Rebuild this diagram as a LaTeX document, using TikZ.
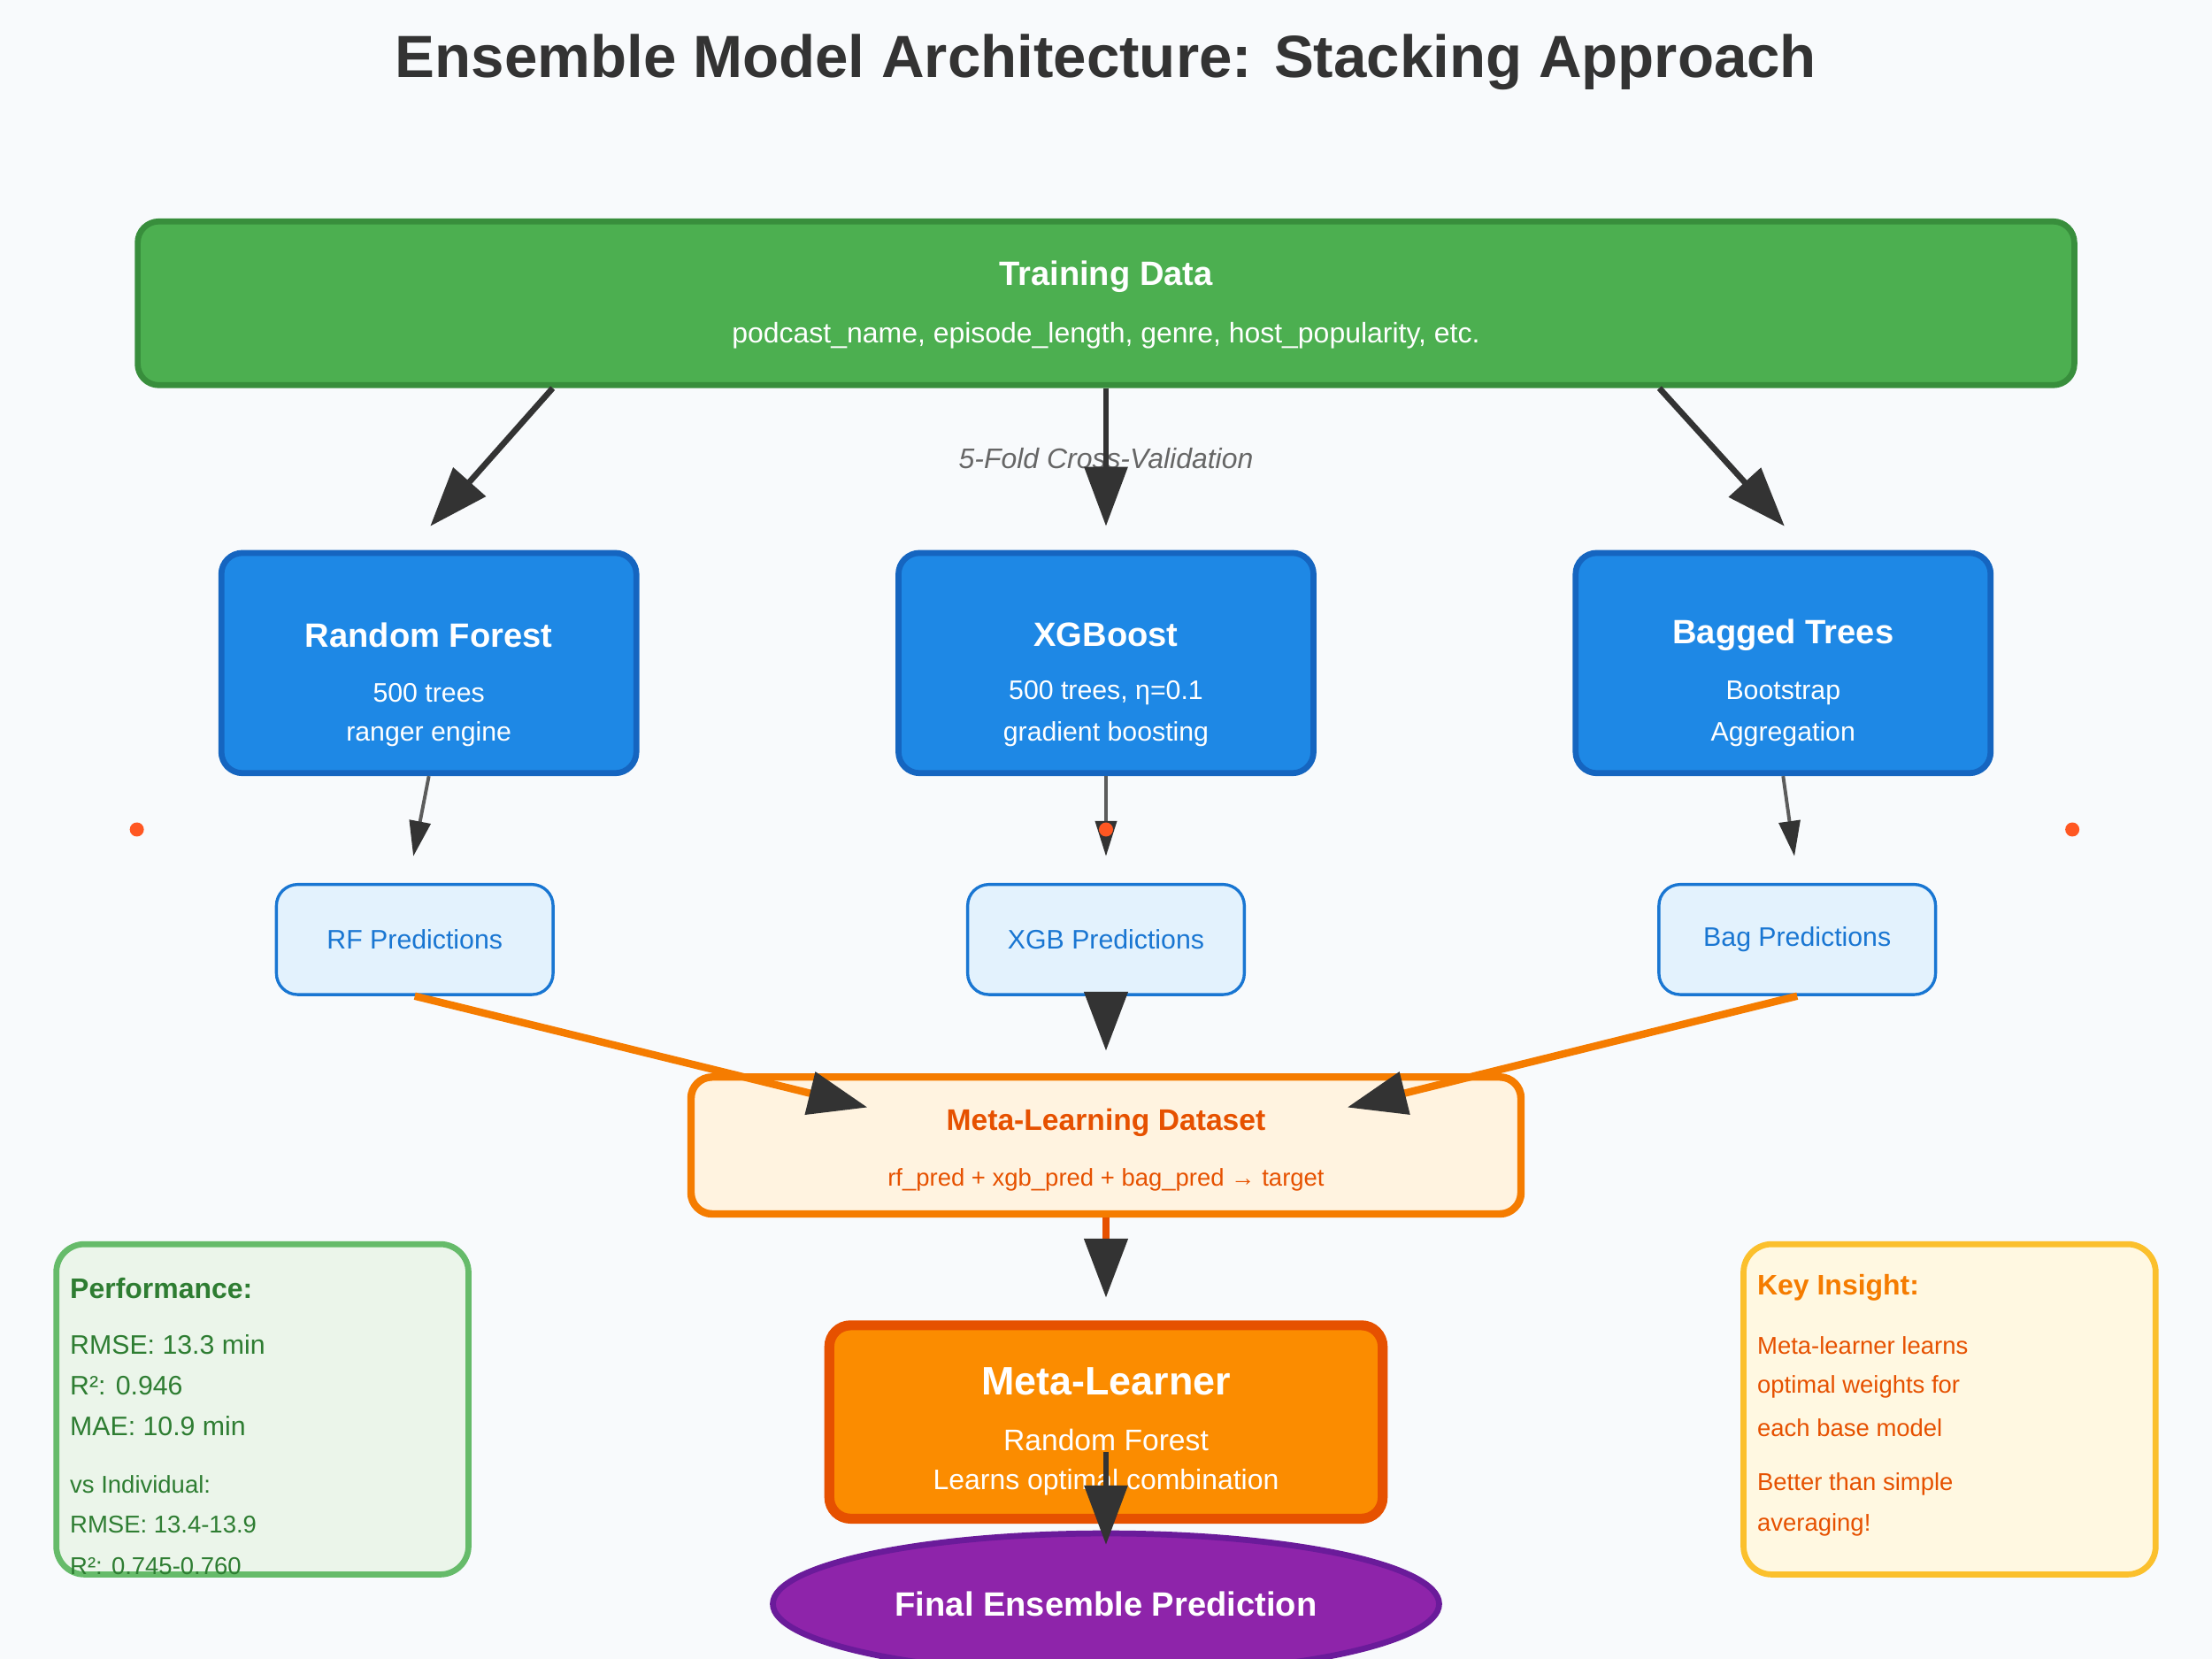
\documentclass[tikz,border=0pt]{standalone}
\usepackage{fontspec}
\setmainfont{Liberation Sans}
\usetikzlibrary{arrows.meta,shapes.geometric}
\definecolor{bgc}{HTML}{F8FAFC}
\definecolor{dark}{HTML}{333333}
\definecolor{tdfill}{HTML}{4CAF50}
\definecolor{tdline}{HTML}{388E3C}
\definecolor{mfill}{HTML}{1E88E5}
\definecolor{mline}{HTML}{1565C0}
\definecolor{pfill}{HTML}{E3F2FD}
\definecolor{pline}{HTML}{1976D2}
\definecolor{dsfill}{HTML}{FFF3E0}
\definecolor{dsline}{HTML}{F57C00}
\definecolor{dstext}{HTML}{E65100}
\definecolor{mlfill}{HTML}{FB8C00}
\definecolor{elfill}{HTML}{8E24AA}
\definecolor{elline}{HTML}{6A1B9A}
\definecolor{gfill}{HTML}{EBF5EA}
\definecolor{gline}{HTML}{66BB6A}
\definecolor{gtext}{HTML}{2E7D32}
\definecolor{yfill}{HTML}{FFF8E1}
\definecolor{yline}{HTML}{FBC02D}
\definecolor{dotc}{HTML}{FF5722}
\newcommand{\fs}[1]{\fontsize{#1}{#1}\selectfont}
\tikzset{
  box/.style={rectangle, rounded corners=0.15cm, inner sep=0pt, align=center, text=white},
  model/.style={box, fill=mfill, draw=mline, line width=1.2pt, minimum width=2.94cm, minimum height=1.56cm},
  pred/.style={box, fill=pfill, draw=pline, line width=0.6pt, minimum width=1.96cm, minimum height=0.78cm, text=pline, font=\fs{5.4pt}},
  side/.style={rectangle, rounded corners=0.2cm, line width=1.2pt, minimum width=2.92cm, minimum height=2.34cm},
  big/.style={-{Triangle[length=0.42cm,width=0.3cm,color=dark]}, line width=1.2pt},
  small/.style={-{Triangle[length=0.25cm,width=0.15cm,color=dark]}, line width=0.7pt, draw=dark!80},
}
\begin{document}
\begin{tikzpicture}[x=0.01cm,y=-0.01cm]
\fill[bgc] (0,0) rectangle (1568,1176);
\useasboundingbox (0,0) rectangle (1568,1176);
\node (title) at (784,44) {\fs{12pt}\bfseries\color{dark}Ensemble Model Architecture: Stacking Approach};
% training data
\node[box, fill=tdfill, draw=tdline, line width=1.2pt, minimum width=13.72cm, minimum height=1.16cm] (td) at (784,215) {};
\node[text=white] (tdt) at (784,196) {\fs{6.8pt}\bfseries Training Data};
\node[text=white] (tds) at (784,238) {\fs{5.7pt}podcast\_name, episode\_length, genre, host\_popularity, etc.};
\node[text=dark!75] (cv) at (784,325) {\fs{5.7pt}\itshape 5-Fold Cross-Validation};
% base models
\node[model] (rf) at (304,470) {};
\node[model] (xgb) at (784,470) {};
\node[model] (bag) at (1264,470) {};
\foreach \n/\t/\a/\b in {rf/Random Forest/500 trees/ranger engine, xgb/XGBoost/{500 trees, η=0.1}/gradient boosting, bag/Bagged Trees/Bootstrap/Aggregation}{
  \node[text=white, anchor=center] (\n t) at ([yshift=1.0cm]\n.south) {\fs{6.8pt}\bfseries \t};
  \node[text=white] (\n a) at ([yshift=0.59cm]\n.south) {\fs{5.4pt}\a};
  \node[text=white] (\n b) at ([yshift=0.3cm]\n.south) {\fs{5.4pt}\b};
}
% predictions
\node[pred] (rfp) at (294,666) {RF Predictions};
\node[pred] (xgbp) at (784,666) {XGB Predictions};
\node[pred] (bagp) at (1274,666) {Bag Predictions};
% meta dataset
\node[box, fill=dsfill, draw=dsline, line width=1.5pt, minimum width=5.88cm, minimum height=0.97cm] (ds) at (784,812) {};
\node (dst) at (784,796) {\fs{6pt}\bfseries\color{dstext}Meta-Learning Dataset};
\node (dss) at (784,836) {\fs{4.9pt}\color{dstext}rf\_pred + xgb\_pred + bag\_pred → target};
% meta learner
\node[box, fill=mlfill, draw=dstext, line width=2pt, minimum width=3.92cm, minimum height=1.37cm] (ml) at (784,1008) {};
\node[text=white] (mlt) at (784,979) {\fs{8pt}\bfseries Meta-Learner};
\node[text=white] (mla) at (784,1021) {\fs{6pt}Random Forest};
\node[text=white] (mlb) at (784,1051) {\fs{5.7pt}Learns optimal combination};
% final
\node[ellipse, fill=elfill, draw=elline, line width=1.2pt, minimum width=4.72cm, minimum height=1.0cm, text=white] (fin) at (784,1137) {\fs{6.8pt}\bfseries Final Ensemble Prediction};
% side boxes
\node[side, fill=gfill, draw=gline] (perf) at (186,999) {};
\node[side, fill=yfill, draw=yline] (ins) at (1382,999) {};
\begin{scope}[every node/.style={anchor=west, inner sep=0pt}]
\node[text=gtext] (p0) at (49,913) {\fs{5.7pt}\bfseries Performance:};
\node[text=gtext] (p1) at (49,953) {\fs{5.4pt}RMSE: 13.3 min};
\node[text=gtext] (p2) at (49,982) {\fs{5.4pt}R²: 0.946};
\node[text=gtext] (p3) at (49,1011) {\fs{5.4pt}MAE: 10.9 min};
\node[text=gtext] (p4) at (49,1052) {\fs{4.9pt}vs Individual:};
\node[text=gtext] (p5) at (49,1081) {\fs{4.9pt}RMSE: 13.4-13.9};
\node[text=gtext] (p6) at (49,1110) {\fs{4.9pt}R²: 0.745-0.760};
\node[text=dsline] (k0) at (1245,913) {\fs{5.7pt}\bfseries Key Insight:};
\node[text=dstext] (k1) at (1245,954) {\fs{4.9pt}Meta-learner learns};
\node[text=dstext] (k2) at (1245,983) {\fs{4.9pt}optimal weights for};
\node[text=dstext] (k3) at (1245,1012) {\fs{4.9pt}each base model};
\node[text=dstext] (k4) at (1245,1052) {\fs{4.9pt}Better than simple};
\node[text=dstext] (k5) at (1245,1081) {\fs{4.9pt}averaging!};
\end{scope}
% dots
\foreach \x/\n in {97/d1,784/d2,1469/d3} \coordinate (\n) at (\x,588);
% connector ends
\coordinate (e1) at (305,373);
\coordinate (e2) at (784,373);
\coordinate (e3) at (1265,373);
\coordinate (f1) at (293,607);
\coordinate (f2) at (784,607);
\coordinate (f3) at (1272,607);
\coordinate (g1) at (615,785);
\coordinate (g2) at (784,745);
\coordinate (g3) at (955,785);
\coordinate (h1) at (784,920);
\coordinate (h2) at (784,1095);
\draw[big, dark] ([xshift=-3.92cm]td.south) -- (e1);
\draw[big, dark] (td.south) -- (e2);
\draw[big, dark] ([xshift=3.92cm]td.south) -- (e3);
\draw[small] (rf.south) -- (f1);
\draw[small] (xgb.south) -- (f2);
\draw[small] (bag.south) -- (f3);
\foreach \n in {d1,d2,d3} \fill[dotc] (\n) circle (5);
\draw[big, dsline, line width=1.5pt] (rfp.south) -- (g1);
\draw[big, dsline, line width=1.5pt] (xgbp.south) -- (g2);
\draw[big, dsline, line width=1.5pt] (bagp.south) -- (g3);
\draw[big, dstext, line width=1.5pt] (ds.south) -- (h1);
\draw[big, dark] (mlb.north) -- (h2);
\end{tikzpicture}
\end{document}
